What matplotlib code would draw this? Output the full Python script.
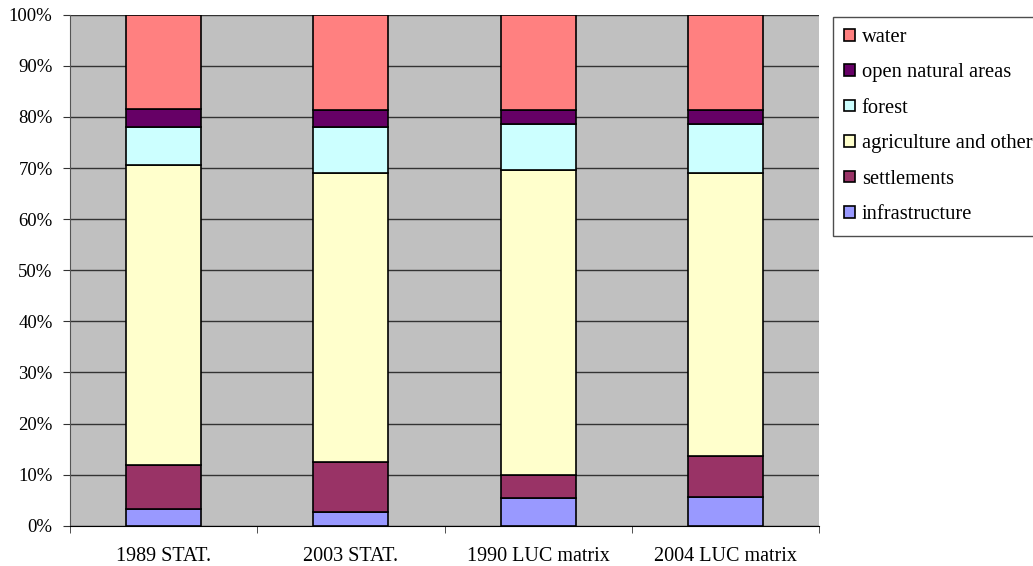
import matplotlib.pyplot as plt
import numpy as np

categories = ['1989 STAT.', '2003 STAT.', '1990 LUC matrix', '2004 LUC matrix']
# share of each land-use class (%), bottom to top
infrastructure = [3.3, 2.7, 5.4, 5.7]
settlements = [8.5, 9.8, 4.6, 8.0]
agriculture = [58.7, 56.5, 59.7, 55.3]
forest = [7.5, 9.0, 9.0, 9.7]
open_natural = [3.6, 3.4, 2.7, 2.7]
water = [18.4, 18.6, 18.6, 18.6]

series = [
    ('infrastructure', infrastructure, '#9999FF'),
    ('settlements', settlements, '#993366'),
    ('agriculture and other', agriculture, '#FFFFCC'),
    ('forest', forest, '#CCFFFF'),
    ('open natural areas', open_natural, '#660066'),
    ('water', water, '#FF8080'),
]

plt.rcParams['font.family'] = ['Liberation Serif', 'DejaVu Serif']
plt.rcParams['font.size'] = 13.5

fig = plt.figure(figsize=(10.33, 5.66), dpi=100)
ax = fig.add_axes([70 / 1033, 40.3 / 566, 749 / 1033, 511 / 566])
ax.set_facecolor('#C0C0C0')

x = np.arange(len(categories))
bottom = np.zeros(len(categories))
handles = []
for name, vals, col in series:
    h = ax.bar(x, vals, 0.4, bottom=bottom, color=col, edgecolor='black',
               linewidth=1.2, label=name, zorder=3)
    handles.append(h)
    bottom += np.array(vals)

ax.set_xlim(-0.5, len(categories) - 0.5)
ax.set_ylim(0, 100)
ax.set_yticks(np.arange(0, 101, 10))
ax.set_yticklabels([f'{v}%' for v in range(0, 101, 10)])
ax.yaxis.grid(True, color='#333333', linewidth=1.0, zorder=0)
ax.set_axisbelow(True)

ax.set_xticks(x)
ax.set_xticklabels(categories, fontsize=14.5)
ax.set_xticks(np.arange(-0.5, len(categories), 1), minor=True)
ax.tick_params(axis='x', which='major', length=0, pad=15)
ax.tick_params(axis='x', which='minor', length=5, color='#333333')
ax.tick_params(axis='y', length=5, color='#333333', pad=7.5)

for s in ['top', 'right']:
    ax.spines[s].set_visible(False)
ax.spines['left'].set_color('#555555')
ax.spines['bottom'].set_color('black')

leg = fig.legend(handles[::-1], [s[0] for s in series[::-1]],
                 loc='upper left', bbox_to_anchor=(833 / 1033, 1 - 16.7 / 566),
                 borderaxespad=0, frameon=True, fancybox=False, edgecolor='#222222',
                 handlelength=0.5, handleheight=0.5, handletextpad=0.35,
                 labelspacing=0.8, borderpad=0.55, fontsize=14.8)
leg.get_frame().set_linewidth(1.0)

fig.savefig('out.png', dpi=100)
